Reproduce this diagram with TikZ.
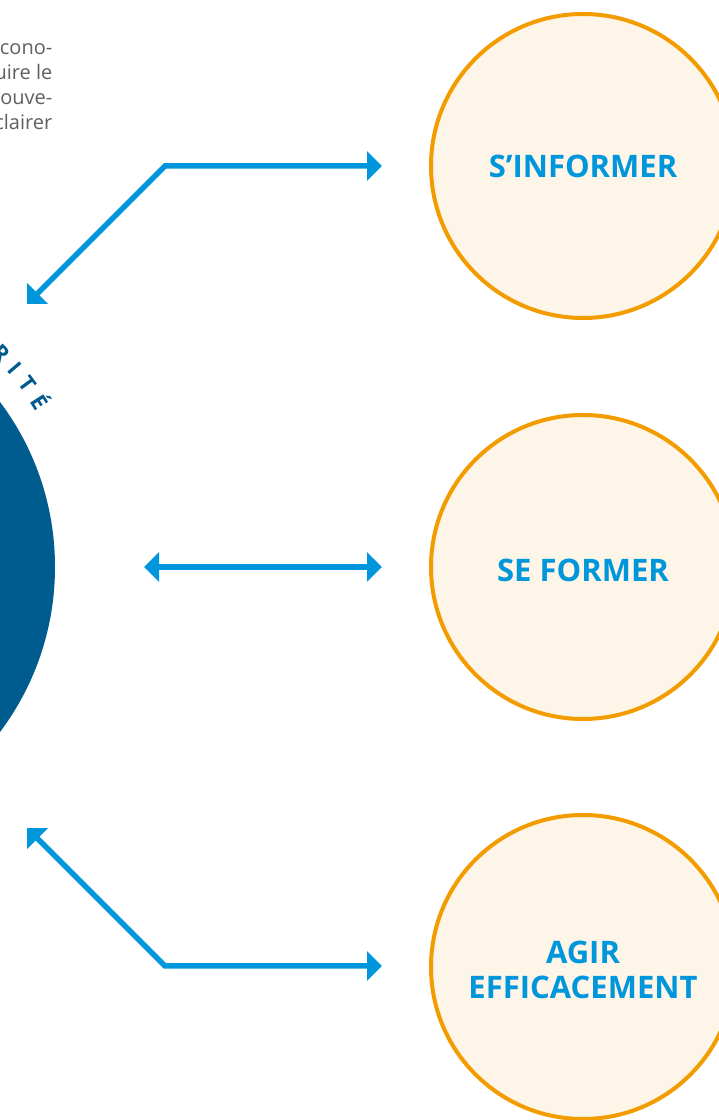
\documentclass[tikz,border=0pt]{standalone}
\usepackage{fontspec}
\setmainfont{Open Sans}
\usetikzlibrary{arrows.meta}
\definecolor{arrowblue}{HTML}{0096DB}
\definecolor{deepblue}{HTML}{005B8F}
\definecolor{ringorange}{HTML}{F39C00}
\definecolor{ringfill}{HTML}{FDF5E8}
\definecolor{bodygrey}{HTML}{606060}
\begin{document}
\begin{tikzpicture}[x=1pt,y=1pt,
  ring/.style={circle, draw=ringorange, fill=ringfill, line width=4pt, minimum size=304pt, inner sep=0pt},
  ringlabel/.style={align=center, text=arrowblue, font=\fontsize{31}{35}\selectfont\bfseries, inner sep=0pt},
  link/.style={draw=arrowblue, line width=5.5pt, line join=miter, {Triangle[length=15pt,width=29pt]}-{Triangle[length=15pt,width=29pt]}},
  bodytext/.style={anchor=base east, text=bodygrey, font=\fontsize{20}{25}\selectfont, inner sep=0pt},
  arcletter/.style={anchor=base, inner sep=0pt, text=deepblue, font=\fontsize{22}{24}\selectfont\bfseries}
]
\useasboundingbox (0,0) rectangle (719,1120);
\fill[white] (0,0) rectangle (719,1120);
% central dark disc (mostly off page)
\node[circle, fill=deepblue, minimum size=550pt, inner sep=0pt] (core) at (-220,553) {};
% curved word fragment
\node[arcletter, rotate=-46.0] (r1) at ([shift={(44.0:300)}]core.center) {R};
\node[arcletter, rotate=-49.8] (r2) at ([shift={(40.2:300)}]core.center) {I};
\node[arcletter, rotate=-53.6] (r3) at ([shift={(36.4:300)}]core.center) {T};
\node[arcletter, rotate=-57.6] (r4) at ([shift={(32.4:300)}]core.center) {É};
% body text fragments
\node[bodytext] (t1) at (52.5,1065) {cono-};
\node[bodytext] (t2) at (52.5,1040) {uire le};
\node[bodytext] (t3) at (52.5,1015) {ouve-};
\node[bodytext] (t4) at (52.5,990) {clairer};
% rings
\node[ring] (inf) at (583,954) {};
\node[ringlabel] (inflabel) at (583,954) {S’INFORMER};
\node[ring] (form) at (583,553) {};
\node[ringlabel] (formlabel) at (583,550) {SE FORMER};
\node[ring] (act) at (583,153) {};
\node[ringlabel] (actlabel) at (583,150) {AGIR\\EFFICACEMENT};
% arrow end points
\coordinate (topL) at (27,816);
\coordinate (topC) at (165,954);
\coordinate (topR) at (382,954);
\coordinate (midL) at (144,553);
\coordinate (midR) at (382,553);
\coordinate (botL) at (27,292);
\coordinate (botC) at (165,154);
\coordinate (botR) at (382,154);
\draw[link] (topL) -- (topC) -- (topR);
\draw[link] (midL) -- (midR);
\draw[link] (botL) -- (botC) -- (botR);
\end{tikzpicture}
\end{document}
